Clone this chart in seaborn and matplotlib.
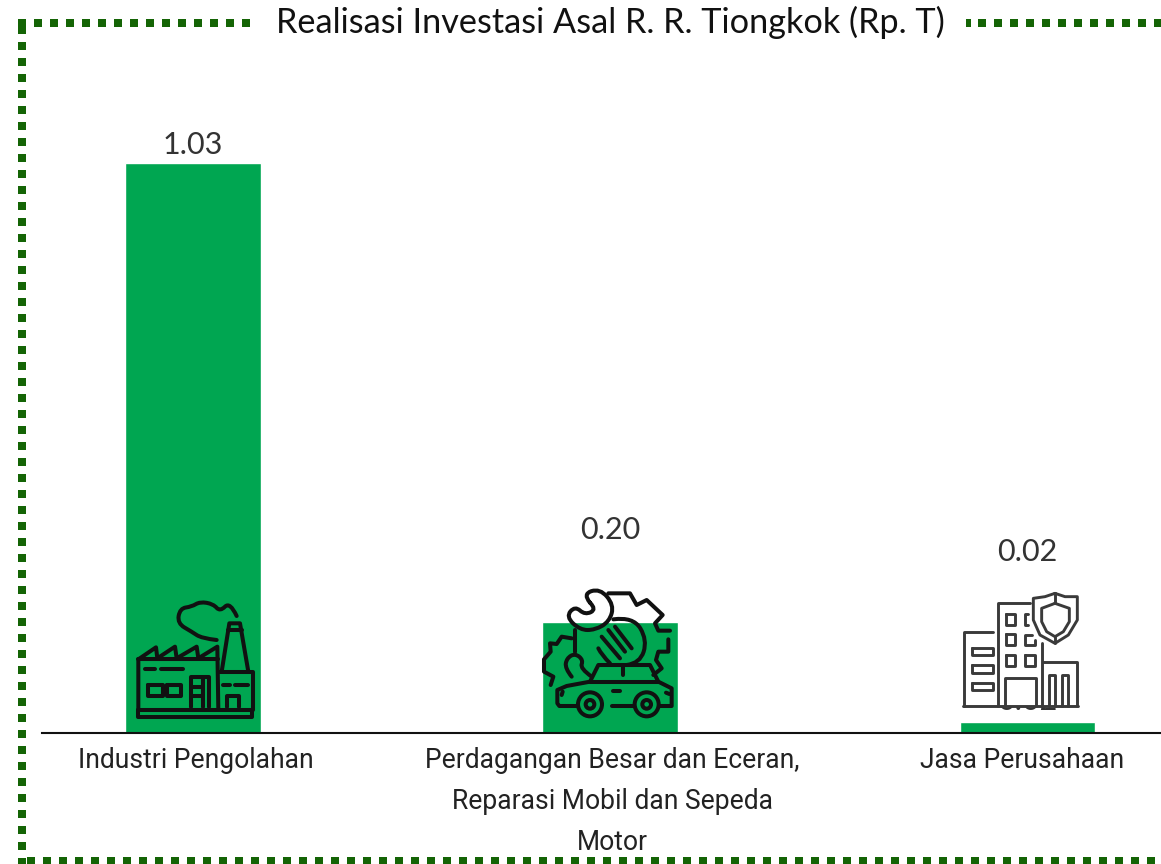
import matplotlib
matplotlib.use('Agg')
import numpy as np
import pandas as pd
import matplotlib.pyplot as plt
import seaborn as sns
from matplotlib.lines import Line2D
from matplotlib.patches import Circle, Rectangle, PathPatch
from matplotlib.path import Path

# chart data
categories = ['Industri Pengolahan',
              'Perdagangan Besar dan Eceran,\nReparasi Mobil dan Sepeda\nMotor',
              'Jasa Perusahaan']
values = [1.03, 0.20, 0.02]
title = 'Realisasi Investasi Asal R. R. Tiongkok (Rp. T)'

# colours
bar_green = '#00A651'
border_green = '#146405'

sns.set_theme(style='white')
plt.rcParams['font.family'] = ['Roboto', 'DejaVu Sans']

W, H = 1161, 864
fig = plt.figure(figsize=(W / 100, H / 100), dpi=100, facecolor='white')

# plot axes, baseline at y=733 px
ax = fig.add_axes([42 / W, 1 - 733 / H, (W - 42) / W, (733 - 45) / H])
df = pd.DataFrame({'sector': categories, 'value': values})
sns.barplot(data=df, x='sector', y='value', color=bar_green, saturation=1, width=0.324, ax=ax)
ax.set_xlim(-0.362, 2.321)
ax.set_ylim(0, 688 / 553)
ax.set_xlabel('')
ax.set_ylabel('')
ax.set_yticks([])
ax.patch.set_alpha(0)
for s in ['top', 'left', 'right']:
    ax.spines[s].set_visible(False)
ax.spines['bottom'].set_color('#111111')
ax.spines['bottom'].set_linewidth(1.5)
ax.tick_params(axis='x', length=0, pad=10)
ax.set_xticks(range(3))
ax.set_xticklabels(categories, fontsize=19.1, color='#222222', linespacing=1.66,
                   fontfamily='Roboto')
for lab, dx in zip(ax.get_xticklabels(), [3, 2, -5]):
    lab.set_transform(lab.get_transform() + matplotlib.transforms.Affine2D().translate(dx, 0))

# data labels sit at odd offsets in the original
label_offsets = [18, 92, 170]
for i, v in enumerate(values):
    ax.annotate('%.2f' % v, (i, v), xytext=(0, label_offsets[i] * 0.72), textcoords='offset points',
                ha='center', va='center', fontsize=22, color='#333333', fontfamily='Lato')
# hidden label behind the building icon
ax.annotate('%.2f' % values[2], (2, values[2]), xytext=(0, 21 * 0.72), textcoords='offset points',
            ha='center', va='center', fontsize=22, color='#333333', fontfamily='Lato', zorder=1)

# overlay in pixel units for the frame, title and icons
ov = fig.add_axes([0, 0, 1, 1], zorder=5)
ov.set_xlim(0, W)
ov.set_ylim(H, 0)
ov.axis('off')
ov.patch.set_alpha(0)

ov.text(610, 22, title, ha='center', va='center', fontsize=24.7, color='#111111',
        fontfamily='Lato')


def frame(xs, ys):
    ov.add_line(Line2D(xs, ys, color=border_green, lw=5.76, dashes=(1, 1), dash_capstyle='butt'))


frame([18, 250], [23, 23])
frame([22, 22], [26, 864])
frame([27, 1161], [861, 861])
frame([978, 1161], [23, 23])
ov.add_line(Line2D([966, 970.5], [23, 23], color=border_green, lw=5.76, solid_capstyle='butt'))


def icon_line(pts, ox, oy, lw, color, smooth=False, close=False):
    pts = np.array(pts, dtype=float) / 3 + [ox, oy]
    if smooth:
        # quadratic spline through midpoints
        verts = [pts[0]]
        codes = [Path.MOVETO]
        for a, b in zip(pts[1:-1], pts[2:]):
            verts += [a, (a + b) / 2]
            codes += [Path.CURVE3, Path.CURVE3]
        verts[-1] = pts[-1]
        ov.add_patch(PathPatch(Path(verts, codes), fc='none', ec=color, lw=lw, capstyle='round',
                               joinstyle='round', zorder=6))
    else:
        if close:
            pts = np.vstack([pts, pts[:1]])
        ov.plot(pts[:, 0], pts[:, 1], color=color, lw=lw, solid_capstyle='round',
                solid_joinstyle='round', zorder=6)


def icon_rect(x0, y0, x1, y1, ox, oy, lw, color):
    icon_line([(x0, y0), (x1, y0), (x1, y1), (x0, y1)], ox, oy, lw, color, close=True)


def icon_circle(cx, cy, r, ox, oy, lw, color):
    ov.add_patch(Circle((cx / 3 + ox, cy / 3 + oy), r / 3, fc='none', ec=color, lw=lw, zorder=6))


# factory icon
fx, fy, flw, fc = 120, 590, 2.9, '#111111'
icon_rect(55, 360, 395, 382, fx, fy, flw, fc)
icon_line([(55, 360), (55, 208), (108, 172), (112, 205), (165, 170), (170, 205), (230, 170),
           (235, 205), (292, 170), (295, 360)], fx, fy, flw, fc)
icon_line([(55, 208), (295, 208)], fx, fy, flw, fc)
icon_line([(305, 245), (328, 100), (360, 100), (385, 245)], fx, fy, flw, fc)
icon_line([(325, 120), (365, 120)], fx, fy, flw, fc)
icon_line([(295, 245), (398, 245), (398, 360)], fx, fy, flw, fc)
icon_rect(85, 285, 130, 318, fx, fy, flw, fc)
icon_rect(140, 285, 183, 318, fx, fy, flw, fc)
icon_line([(75, 238), (105, 238)], fx, fy, flw, fc)
icon_line([(122, 238), (190, 238)], fx, fy, flw, fc)
icon_line([(212, 350), (212, 262), (268, 262), (268, 350)], fx, fy, flw, fc)
icon_line([(248, 265), (248, 350)], fx, fy, flw, fc)
for yy in [292, 318]:
    icon_line([(215, yy), (245, yy)], fx, fy, flw, fc)
icon_line([(310, 285), (330, 285)], fx, fy, flw, fc)
icon_line([(345, 285), (385, 285)], fx, fy, flw, fc)
icon_line([(322, 350), (322, 318), (358, 318), (358, 350)], fx, fy, flw, fc)
icon_line([(290, 150), (245, 145), (215, 125), (172, 100), (180, 55), (215, 50), (240, 35), (280, 42),
           (300, 65), (330, 35), (350, 78)], fx, fy, flw, fc, smooth=True)

# car and wrench icon
cx, cy, clw, cc = 530, 580, 2.9, '#111111'
icon_line([(140, 378), (88, 378), (82, 370), (82, 330), (110, 318), (180, 305), (205, 255), (360, 255),
           (385, 305), (425, 325), (425, 378), (388, 378)], cx, cy, clw, cc)
icon_line([(180, 305), (385, 305)], cx, cy, clw, cc)
icon_line([(245, 378), (312, 378)], cx, cy, clw, cc)
icon_line([(280, 258), (280, 285)], cx, cy, clw, cc)
icon_line([(250, 332), (270, 332)], cx, cy, clw, cc)
icon_line([(98, 335), (95, 345)], cx, cy, clw, cc)
icon_line([(408, 338), (418, 342)], cx, cy, clw, cc)
for wx in [180, 350]:
    icon_circle(wx, 373, 36, cx, cy, clw, cc)
    icon_circle(wx, 373, 13, cx, cy, clw, cc)
icon_line([(180, 68), (158, 42), (210, 25), (252, 75), (238, 125), (195, 150), (150, 150), (108, 110),
           (135, 78), (165, 105), (200, 88), (180, 68)], cx, cy, clw, cc, smooth=True)
icon_line([(250, 118), (310, 110), (352, 180), (330, 250), (290, 255)], cx, cy, clw, cc, smooth=True)
icon_line([(205, 205), (215, 225), (240, 250)], cx, cy, clw, cc, smooth=True)
icon_line([(235, 150), (285, 215)], cx, cy, clw, cc)
icon_line([(255, 140), (305, 205)], cx, cy, clw, cc)
icon_line([(215, 170), (270, 235)], cx, cy, clw, cc)
icon_line([(235, 40), (300, 40), (320, 75), (350, 60), (398, 105), (375, 130), (385, 152), (420, 152)],
          cx, cy, clw, cc)
icon_line([(415, 178), (415, 215), (385, 215), (378, 240), (395, 265), (370, 285)], cx, cy, clw, cc)
icon_line([(125, 175), (95, 170), (80, 192), (60, 190), (62, 215), (42, 238), (42, 275), (70, 290),
           (62, 315)], cx, cy, clw, cc)
icon_line([(125, 290), (105, 265), (110, 235), (135, 220), (160, 240), (150, 265), (185, 290)],
          cx, cy, clw, cc, smooth=True)
icon_line([(135, 150), (135, 215)], cx, cy, clw, cc)

# office and shield icon, white backing hides the top of the label
bx, by, blw, bc = 950, 580, 2.1, '#3a3a3a'
ov.add_patch(Rectangle((960, 592), 122, 115, fc='white', ec='none', zorder=5.5))
icon_line([(40, 378), (385, 378)], bx, by, blw, bc)
icon_line([(130, 157), (42, 157), (42, 378)], bx, by, blw, bc)
icon_line([(145, 378), (145, 70), (240, 70)], bx, by, blw, bc)
icon_line([(275, 190), (275, 378)], bx, by, blw, bc)
icon_line([(278, 245), (382, 245), (382, 378)], bx, by, blw, bc)
icon_rect(168, 103, 195, 135, bx, by, blw, bc)
icon_rect(168, 163, 195, 195, bx, by, blw, bc)
icon_rect(168, 225, 195, 258, bx, by, blw, bc)
icon_rect(225, 225, 255, 258, bx, by, blw, bc)
icon_line([(235, 103), (225, 103), (225, 135), (235, 135)], bx, by, blw, bc)
icon_line([(245, 165), (225, 165), (225, 195), (255, 195), (255, 180)], bx, by, blw, bc)
icon_line([(165, 378), (165, 295), (258, 295), (258, 378)], bx, by, blw, bc)
for y0, y1 in [(205, 225), (255, 278), (308, 330)]:
    icon_rect(65, y0, 130, y1, bx, by, blw, bc)
for x0, x1 in [(297, 315), (335, 355)]:
    icon_line([(x0, 378), (x0, 285), (x1, 285), (x1, 378)], bx, by, blw, bc)
icon_line([(315, 40), (345, 50), (382, 50), (382, 120), (355, 165), (315, 190), (270, 165), (250, 120),
           (250, 55), (285, 50), (315, 40)], bx, by, blw, bc)
icon_line([(315, 70), (358, 85), (358, 125), (340, 155), (315, 170), (290, 155), (275, 125), (275, 85),
           (315, 70)], bx, by, blw, bc)
icon_line([(315, 40), (315, 70)], bx, by, blw, bc)
icon_line([(315, 170), (315, 190)], bx, by, blw, bc)

plt.savefig('out.png', dpi=100)
